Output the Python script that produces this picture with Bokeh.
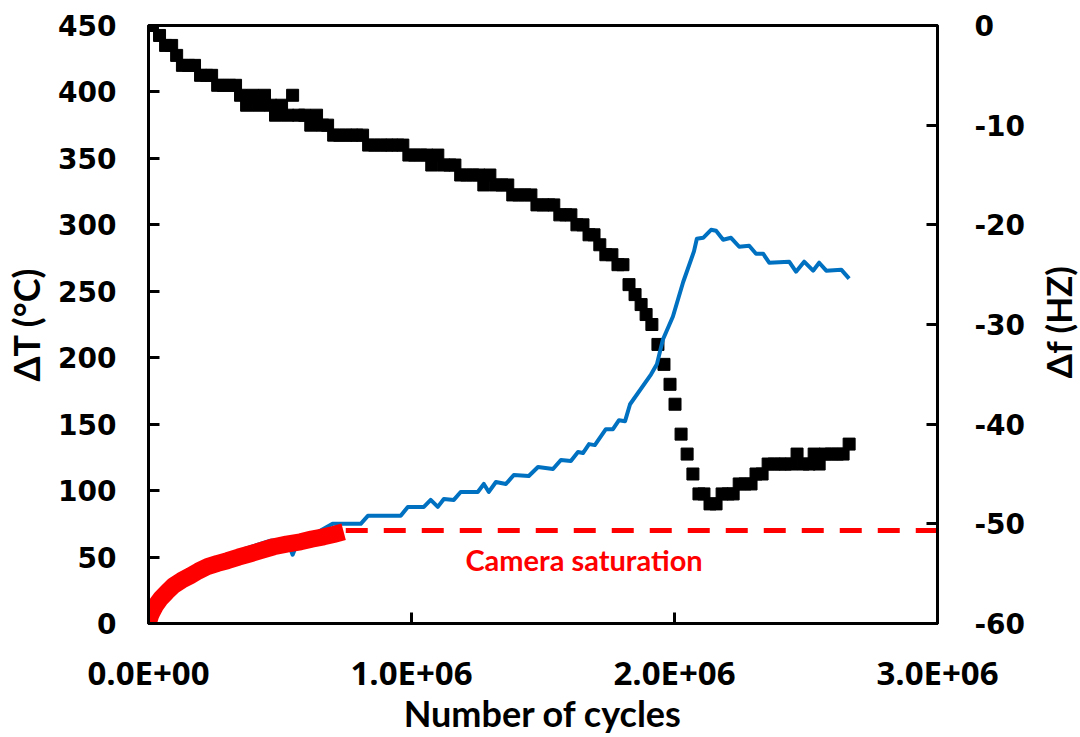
import math
from bokeh.plotting import figure
from bokeh.models import Range1d, LinearAxis, FixedTicker, Label
from bokeh.embed import file_html
from bokeh.resources import INLINE

# ---- data ----
# Δf (Hz), black squares, right axis
df_cycles = [15, 42, 65, 88, 107, 129, 152, 175, 198, 221,
             240, 263, 285, 308, 331, 350, 373, 396, 419, 441,
             464, 483, 506, 529, 548, 571, 594, 617, 639, 662,
             681, 704, 727, 750, 773, 792, 814, 837, 860, 883,
             906, 925, 948, 967, 990, 1012, 1035, 1058, 1077, 1100,
             1123, 1146, 1165, 1187, 1210, 1233, 1256, 1275, 1298, 1321,
             1344, 1366, 1385, 1408, 1431, 1454, 1477, 1500, 1522, 1541,
             1564, 1587, 1606, 1629, 1652, 1675, 1694, 1716, 1739, 1762,
             1785, 1804, 1827, 1850, 1873, 1892, 1914, 1937, 1960, 1983,
             2002, 2025, 2048, 2070, 2093, 2112, 2135, 2158, 2181, 2204,
             2223, 2246, 2268, 2291, 2310, 2333, 2356, 2379, 2402, 2421,
             2444, 2466, 2489, 2512, 2531, 2550, 2573, 2596, 2619, 2641,
             2664]
df_hz = [0, -1, -2, -2, -3, -4, -4, -4, -5, -5,
         -5, -6, -6, -6, -6, -7, -8, -7, -8, -7,
         -8, -9, -8, -9, -7, -9, -9, -10, -9, -10,
         -10, -11, -11, -11, -11, -11, -11, -12, -12, -12,
         -12, -12, -12, -12, -13, -13, -13, -13, -14, -13,
         -14, -14, -14, -15, -15, -15, -15, -16, -15, -16,
         -16, -16, -17, -17, -17, -17, -18, -18, -18, -18,
         -19, -19, -19, -20, -20, -21, -21, -22, -23, -23,
         -24, -24, -26, -27, -28, -29, -30, -32, -34, -36,
         -38, -41, -43, -45, -47, -47, -48, -48, -47, -47,
         -47, -46, -46, -46, -45, -45, -44, -44, -44, -44,
         -44, -43, -44, -44, -43, -44, -43, -43, -43, -43,
         -42]

# ΔT (°C), blue line, left axis
dt_cycles = [362, 464, 502, 533, 548, 567, 636, 700, 807, 834,
             959, 986, 1047, 1073, 1100, 1123, 1161, 1187, 1252, 1275,
             1294, 1321, 1359, 1389, 1446, 1481, 1538, 1568, 1606, 1633,
             1652, 1675, 1697, 1739, 1766, 1789, 1812, 1831, 1911, 1933,
             1956, 1994, 2033, 2074, 2085, 2109, 2139, 2158, 2185, 2215,
             2246, 2284, 2310, 2337, 2360, 2436, 2462, 2493, 2527, 2550,
             2577, 2634, 2664]
dt_c = [56, 62.25, 63, 60, 51.75, 61, 68, 75, 75, 81,
        81, 87.75, 87.75, 93, 87.75, 93.75, 93, 99, 99, 105,
        99, 106.5, 105, 111.75, 111, 117.75, 116.25, 123, 122.25, 129,
        128.25, 135, 134.25, 146.25, 146.25, 153, 152.25, 165, 187.5, 195,
        213.75, 231, 257, 280, 289.5, 290.25, 296.25, 295.5, 288.75, 290.25,
        283.5, 284.25, 278.25, 278.25, 271.5, 272.25, 264.75, 272.25, 265.5, 271.5,
        265.5, 266.25, 259.5]

# ΔT (°C) from camera, red, left axis
cam_cycles = [0, 4, 8, 15, 27, 46, 69, 95, 126, 160, 190, 224, 263, 300,
              343, 388, 430, 476, 525, 578, 620, 666, 704, 742]
cam_c = [0, 3.5, 6, 9, 13.5, 18.75, 23.5, 28.5, 32.5, 36, 39.5, 42.75, 45.25, 47.25,
         50, 52.5, 55, 57.75, 59.75, 61.5, 63.5, 65.25, 67, 69]

# camera saturation level
sat_cycles = [750, 3000]
sat_c = [70, 70]

x_ticks = [0, 1000000, 2000000, 3000000]
x_tick_labels = ["0.0E+00", "1.0E+06", "2.0E+06", "3.0E+06"]
left_ticks = [0, 50, 100, 150, 200, 250, 300, 350, 400, 450]
right_ticks = [-60, -50, -40, -30, -20, -10, 0]
right_tick_labels = ["-60", "-50", "-40", "-30", "-20", "-10", "0"]

K = 1000
df_x = [c * K for c in df_cycles]
dt_x = [c * K for c in dt_cycles]
cam_x = [c * K for c in cam_cycles]
sat_x = [c * K for c in sat_cycles]

BLUE = "#0070C0"
RED = "#FF0000"

p = figure(width=1080, height=737, output_backend="svg", toolbar_location=None,
           x_range=Range1d(0, 3000000), y_range=Range1d(0, 450),
           min_border_left=148, min_border_right=143,
           min_border_top=25, min_border_bottom=112)
p.extra_y_ranges = {"df": Range1d(-60, 0)}
p.background_fill_color = "white"
p.border_fill_color = "white"
p.outline_line_color = "black"
p.outline_line_width = 3
p.xgrid.visible = False
p.ygrid.visible = False

# renderers
p.scatter(df_x, df_hz, marker="square", size=12, color="black", y_range_name="df")
p.line(dt_x, dt_c, line_width=4, color=BLUE, line_join="round")
p.line(cam_x, cam_c, line_width=17, color=RED, line_join="round", line_cap="butt")
p.line(sat_x, sat_c, line_width=5, color=RED, line_dash="22 16")

def style_axis(ax, font, size):
    ax.axis_line_width = 3
    ax.axis_line_color = "black"
    ax.major_tick_line_width = 3
    ax.major_tick_line_color = "black"
    ax.major_tick_in = 11
    ax.major_tick_out = 0
    ax.minor_tick_line_color = None
    ax.major_label_text_font = font
    ax.major_label_text_font_size = size
    ax.major_label_text_font_style = "bold"
    ax.major_label_text_color = "black"
    ax.axis_label_text_font = "Lato"
    ax.axis_label_text_font_size = "36px"
    ax.axis_label_text_font_style = "bold"
    ax.axis_label_text_color = "black"

xa = p.xaxis[0]
xa.ticker = FixedTicker(ticks=x_ticks)
xa.major_label_overrides = dict(zip(x_ticks, x_tick_labels))
style_axis(xa, "Open Sans", "33px")
xa.major_label_standoff = 26
xa.axis_label = "Number of cycles"
xa.axis_label_standoff = -7

ya = p.yaxis[0]
ya.ticker = FixedTicker(ticks=left_ticks)
style_axis(ya, "DejaVu Sans", "28px")
ya.major_label_standoff = 32
ya.axis_label = "ΔT (°C)"
ya.axis_label_standoff = 7

ra = LinearAxis(y_range_name="df", ticker=FixedTicker(ticks=right_ticks))
ra.major_label_overrides = dict(zip(right_ticks, right_tick_labels))
style_axis(ra, "DejaVu Sans", "28px")
ra.major_label_standoff = 37
p.add_layout(ra, "right")

# right-hand axis title, reading bottom-to-top, placed in the right side panel
p.add_layout(Label(x=3458000, y=227, text="Δf (HZ)", text_font="Lato",
                   text_font_size="35px", text_font_style="bold", text_color="black",
                   angle=math.pi / 2, text_align="center", text_baseline="middle"),
             "right")

# annotation inside the plot
p.add_layout(Label(x=1656000, y=48, text="Camera saturation", text_font="Lato",
                   text_font_size="29px", text_font_style="bold", text_color=RED,
                   text_align="center", text_baseline="alphabetic"))

open("out.html", "w").write(file_html(p, INLINE))
